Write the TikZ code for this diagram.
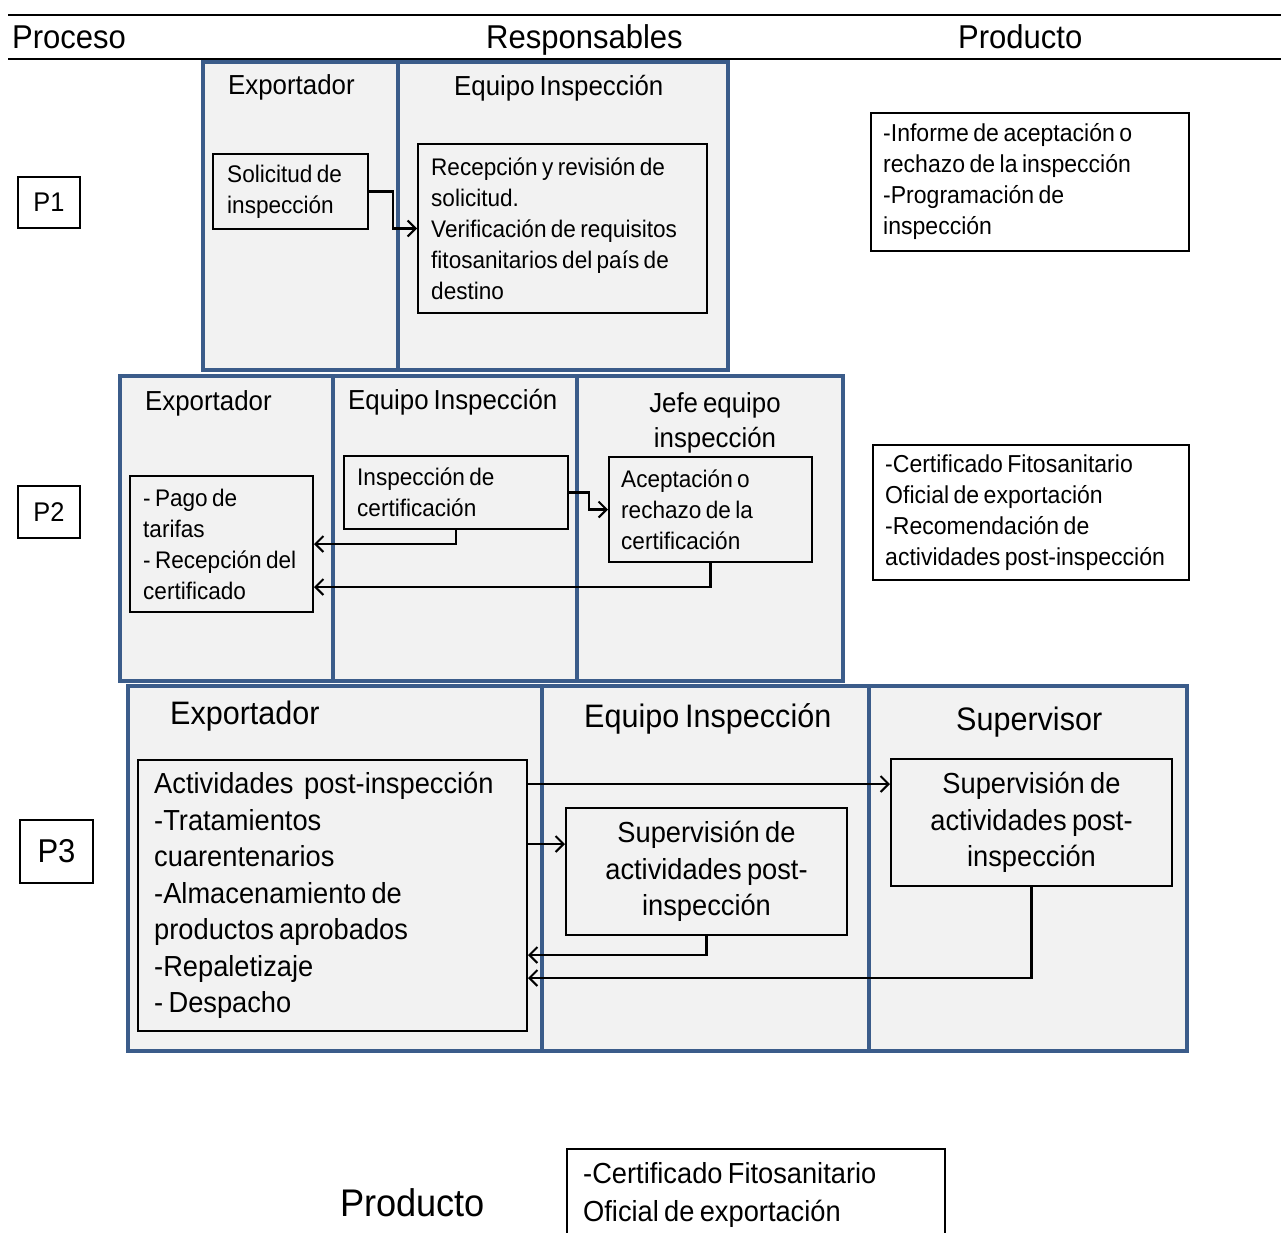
\documentclass[tikz,border=0pt]{standalone}
\usepackage{fontspec}
\setmainfont{Liberation Sans}[FakeStretch=0.94,WordSpace=0.7]
\usetikzlibrary{arrows.meta}
\definecolor{laneblue}{RGB}{59,92,138}
\definecolor{lanefill}{RGB}{242,242,242}
\newcommand{\fsz}[2]{\fontsize{#1}{#2}\selectfont}

\begin{document}
\begin{tikzpicture}[x=1pt,y=-1pt,
  lane/.style={draw=laneblue,line width=4.5pt,fill=lanefill},
  box/.style={draw=black,line width=2pt,fill=lanefill,inner sep=0pt,rectangle},
  outbox/.style={draw=black,line width=2pt,fill=white,inner sep=0pt,rectangle},
  txt/.style={inner sep=0pt,align=left,anchor=west},
  title/.style={inner sep=0pt,anchor=base west},
  small/.style={font=\fsz{24}{31}},
  prod/.style={font=\fsz{24.5}{31}},
  mid/.style={font=\fsz{29}{36.5}},
  conn/.style={draw=black,line width=2.2pt,-{Straight Barb[length=8pt,width=16pt,line width=2pt]}},
  ]
\useasboundingbox (0,0) rectangle (1281,1232);
\fill[white] (0,0) rectangle (1281,1232);

% header rows
\draw[line width=2pt] (8,15) -- (1281,15);
\draw[line width=2pt] (8,59) -- (1281,59);
\node[title,font=\fsz{33}{38}] (hproc) at (12,48) {Proceso};
\node[title,font=\fsz{33}{38}] (hresp) at (486,48) {Responsables};
\node[title,font=\fsz{33}{38}] (hprod) at (958,48) {Producto};

% ---------------- P1 ----------------
\draw[lane] (203,62) rectangle (398,370);
\draw[lane] (398,62) rectangle (728,370);
\node[title,font=\fsz{27.5}{33}] (p1exp) at (228,94) {Exportador};
\node[title,font=\fsz{27.5}{33}] (p1eq) at (454,95) {Equipo Inspección};

\node[outbox,minimum width=62pt,minimum height=51pt,font=\fsz{27}{30}] (p1) at (49,202.5) {P1};

\node[box,minimum width=155pt,minimum height=75pt] (solic) at (290.5,191.5) {};
\node[txt,small] (solic-t) at ([xshift=15pt]solic.west) {Solicitud de\\inspección};
\node[box,minimum width=289pt,minimum height=169pt] (recep) at (562.5,228.5) {};
\node[txt,small] (recep-t) at ([xshift=14pt]recep.west) {Recepción y revisión de\\solicitud.\\Verificación de requisitos\\fitosanitarios del país de\\destino};

\draw[conn] (solic.east) -- ++(24,0) |- (recep.west);

\node[outbox,minimum width=318pt,minimum height=138pt] (prod1) at (1030,182) {};
\node[txt,prod] (prod1-t) at ([xshift=13pt]prod1.west) {-Informe de aceptación o\\rechazo de la inspección\\-Programación de\\inspección};

% ---------------- P2 ----------------
\draw[lane] (120,376) rectangle (333,681);
\draw[lane] (333,376) rectangle (577,681);
\draw[lane] (577,376) rectangle (843,681);
\node[title,font=\fsz{27.5}{33}] (p2exp) at (145,410) {Exportador};
\node[title,font=\fsz{27.5}{33}] (p2eq) at (348,409) {Equipo Inspección};
\node[inner sep=0pt,align=center,font=\fsz{27.5}{35}] (p2jefe) at (715,423) {Jefe equipo\\inspección};

\node[outbox,minimum width=62pt,minimum height=52pt,font=\fsz{27}{30}] (p2) at (49,512) {P2};

\node[box,minimum width=183pt,minimum height=136pt] (pago) at (221.5,544) {};
\node[txt,small] (pago-t) at ([xshift=14pt]pago.west) {- Pago de\\tarifas\\- Recepción del\\certificado};
\node[box,minimum width=224pt,minimum height=73pt] (insp) at (456,492.5) {};
\node[txt,small] (insp-t) at ([xshift=14pt]insp.west) {Inspección de\\certificación};
\node[box,minimum width=203pt,minimum height=105pt] (acep) at (710.5,509.5) {};
\node[txt,small] (acep-t) at ([xshift=13pt]acep.west) {Aceptación o\\rechazo de la\\certificación};

\draw[conn] (insp.east) -- ++(20,0) |- (acep.west);
\draw[conn] (insp.south) |- (pago.east);
\draw[conn] (acep.south) |- ([yshift=-43pt]pago.east);

\node[outbox,minimum width=316pt,minimum height=135pt] (prod2) at (1031,512.5) {};
\node[txt,prod] (prod2-t) at ([xshift=13pt]prod2.west) {-Certificado Fitosanitario\\Oficial de exportación\\-Recomendación de\\actividades post-inspección};

% ---------------- P3 ----------------
\draw[lane] (128,686) rectangle (542,1051);
\draw[lane] (542,686) rectangle (869,1051);
\draw[lane] (869,686) rectangle (1187,1051);
\node[title,font=\fsz{32.5}{38}] (p3exp) at (170,724) {Exportador};
\node[title,font=\fsz{32.5}{38}] (p3eq) at (584,727) {Equipo Inspección};
\node[title,font=\fsz{32.5}{38}] (p3sup) at (956,730) {Supervisor};

\node[outbox,minimum width=73pt,minimum height=63pt,font=\fsz{33}{36}] (p3) at (56.5,851.5) {P3};

\node[box,minimum width=389pt,minimum height=271pt] (activ) at (332.5,895.5) {};
\node[txt,mid] (activ-t) at ([xshift=17pt]activ.west) {Actividades\ \ post-inspección\\-Tratamientos\\cuarentenarios\\-Almacenamiento de\\productos aprobados\\-Repaletizaje\\- Despacho};
\node[box,minimum width=281pt,minimum height=127pt,align=center,mid] (supm) at (706.5,871.5) {Supervisión de\\actividades post-\\inspección};
\node[box,minimum width=281pt,minimum height=127pt,align=center,mid] (supr) at (1031.5,822.5) {Supervisión de\\actividades post-\\inspección};

\coordinate (supr-in) at ([yshift=38.5pt]supr.west);
\coordinate (supm-in) at ([yshift=27.5pt]supm.west);
\draw[conn] (activ.east |- supr-in) -- (supr-in);
\draw[conn] (activ.east |- supm-in) -- (supm-in);
\draw[conn] (supm.south) |- ([yshift=-59.5pt]activ.east);
\draw[conn] (supr.south) |- ([yshift=-82.5pt]activ.east);

% ---------------- bottom product ----------------
\node[title,font=\fsz{38.5}{42}] (bprod) at (340,1216) {Producto};
\node[outbox,minimum width=378pt,minimum height=110pt,anchor=north west] (prod3) at (566,1148) {};
\node[title,font=\fsz{29}{38}] (prod3-t) at (583,1183) {-Certificado Fitosanitario};
\node[title,font=\fsz{29}{38}] (prod3-t2) at (583,1221) {Oficial de exportación};
\end{tikzpicture}
\end{document}
